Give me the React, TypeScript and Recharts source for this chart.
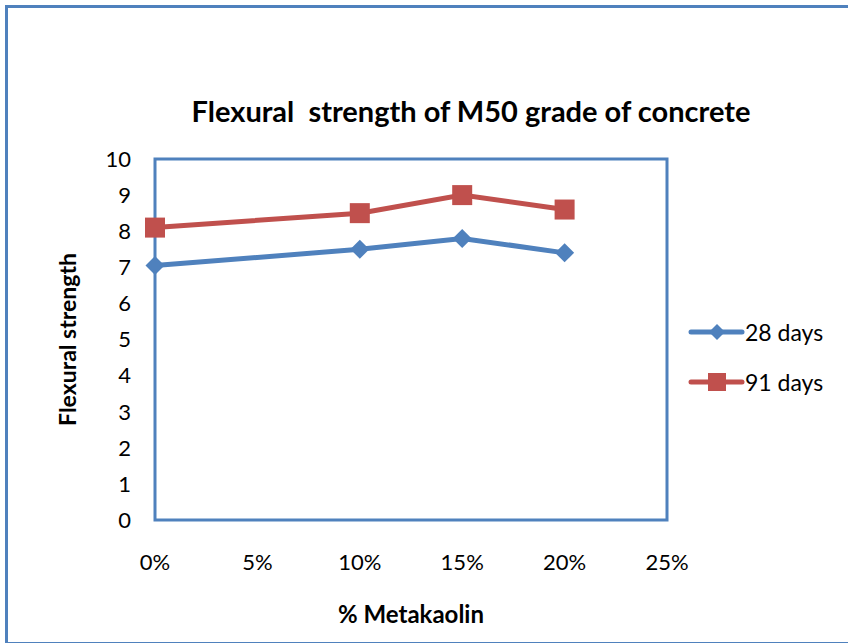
import React from "react";
import { LineChart, Line, XAxis, YAxis, ReferenceArea } from "recharts";

const metakaolin = [0, 10, 15, 20];
const days28 = [7.05, 7.5, 7.8, 7.4];
const days91 = [8.1, 8.5, 9.0, 8.6];
const xTicks = [0, 5, 10, 15, 20, 25];
const yTicks = [0, 1, 2, 3, 4, 5, 6, 7, 8, 9, 10];
const seriesNames = ["28 days", "91 days"];

const BLUE = "#4F81BD";
const RED = "#C0504D";
const FONT = "Lato, 'Open Sans', sans-serif";

const data = metakaolin.map((x, i) => ({
  x,
  d28: days28[i],
  d91: days91[i],
}));

const Diamond = (props: any) => {
  const { cx, cy } = props;
  if (cx == null || cy == null) return null;
  const r = 9.5;
  return (
    <path
      d={`M${cx},${cy - r}L${cx + r},${cy}L${cx},${cy + r}L${cx - r},${cy}Z`}
      fill={BLUE}
    />
  );
};

const Square = (props: any) => {
  const { cx, cy } = props;
  if (cx == null || cy == null) return null;
  const h = 10;
  return <rect x={cx - h} y={cy - h} width={h * 2} height={h * 2} fill={RED} />;
};

const LegendBox = () => {
  const colors = [BLUE, RED];
  return (
    <div
      style={{
        position: "absolute",
        left: 688,
        top: 307,
        fontFamily: FONT,
        fontSize: 23,
        color: "#000",
      }}
    >
      {seriesNames.map((name, i) => (
        <div key={name} style={{ display: "flex", alignItems: "center", height: 50 }}>
          <svg width={57} height={22}>
            <line x1={3} y1={11} x2={54} y2={11} stroke={colors[i]} strokeWidth={5} strokeLinecap="round" />
            {i === 0 ? (
              <path d="M29,3L37,11L29,19L21,11Z" fill={colors[i]} />
            ) : (
              <rect x={20} y={2} width={18} height={18} fill={colors[i]} />
            )}
          </svg>
          <span style={{ marginLeft: 0 }}>{name}</span>
        </div>
      ))}
    </div>
  );
};

export default function App() {
  return (
    <div
      style={{
        position: "absolute",
        left: 0,
        top: 0,
        width: 848,
        height: 643,
        overflow: "hidden",
        background: "#fff",
        fontFamily: FONT,
      }}
    >
      <div
        style={{
          position: "absolute",
          left: 5,
          top: 5,
          width: 900,
          height: 634,
          border: `3px solid ${BLUE}`,
        }}
      />
      <div
        style={{
          position: "absolute",
          left: 0,
          width: 942,
          top: 93,
          textAlign: "center",
          fontSize: 29,
          fontWeight: 700,
          whiteSpace: "pre",
        }}
      >
        {"Flexural  strength of M50 grade of concrete"}
      </div>
      <LineChart
        width={848}
        height={643}
        data={data}
        margin={{ top: 159, right: 181, bottom: 0, left: 0 }}
        style={{ position: "absolute", left: 0, top: 0 }}
      >
        <XAxis
          dataKey="x"
          type="number"
          domain={[0, 25]}
          ticks={xTicks}
          interval={0}
          tickFormatter={(v) => `${v}%`}
          axisLine={false}
          tickLine={false}
          tickSize={0}
          tickMargin={34}
          height={123}
          tick={{ fill: "#000", fontSize: 22, fontFamily: FONT }}
          label={{
            value: "% Metakaolin",
            position: "insideBottom",
            offset: 20,
            fill: "#000",
            fontSize: 24,
            fontWeight: 700,
            fontFamily: FONT,
          }}
        />
        <YAxis
          type="number"
          domain={[0, 10]}
          ticks={yTicks}
          interval={0}
          axisLine={false}
          tickLine={false}
          tickSize={0}
          tickMargin={24}
          width={155}
          tick={{ fill: "#000", fontSize: 22, fontFamily: FONT }}
          label={{
            value: "Flexural strength",
            angle: -90,
            position: "insideLeft",
            offset: 68,
            fill: "#000",
            fontSize: 23,
            fontWeight: 700,
            fontFamily: FONT,
            style: { textAnchor: "middle" },
          }}
        />
        <ReferenceArea
          x1={0}
          x2={25}
          y1={0}
          y2={10}
          fill="none"
          fillOpacity={0}
          stroke={BLUE}
          strokeWidth={3}
          strokeOpacity={1}
        />
        <Line
          dataKey="d28"
          name={seriesNames[0]}
          stroke={BLUE}
          strokeWidth={5}
          dot={<Diamond />}
          activeDot={false}
          isAnimationActive={false}
        />
        <Line
          dataKey="d91"
          name={seriesNames[1]}
          stroke={RED}
          strokeWidth={5}
          dot={<Square />}
          activeDot={false}
          isAnimationActive={false}
        />
      </LineChart>
      <LegendBox />
    </div>
  );
}
